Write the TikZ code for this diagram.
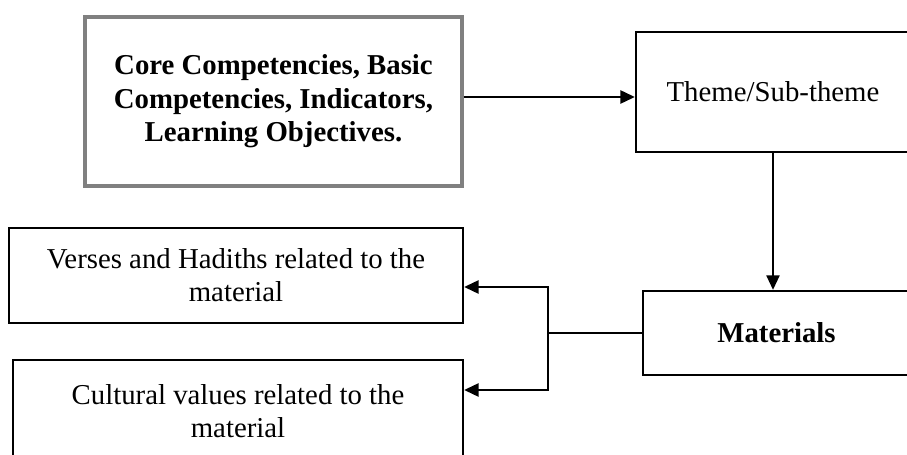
\documentclass[tikz,border=0pt]{standalone}
\usepackage{fontspec}
\setmainfont{Liberation Serif}
\usepackage{tikz}
\usetikzlibrary{arrows.meta,calc,positioning}
\tikzset{
    box/.style={
           rectangle,
           draw=black, line width=1pt,
           inner sep=0pt,
           align=center,
           font=\fontsize{12}{13.8}\selectfont,
           },
    graybox/.style={
           box,
           draw=gray, line width=1.3pt,
           font=\fontsize{12}{13.9}\selectfont\bfseries,
           },
    pil/.style={
           -{Triangle[length=6pt,width=5.5pt]},
           line width=0.8pt,
           },
}
\begin{document}
\begin{tikzpicture}[x=0.4167pt,y=-0.4167pt]
\useasboundingbox (0,0) rectangle (907,455);
\clip (0,0) rectangle (907,455);
\node[graybox, minimum width=377*0.4167pt, minimum height=169*0.4167pt] (core) at (273.5,101.5)
   {Core Competencies, Basic\\Competencies, Indicators,\\Learning Objectives.};
\node[box, minimum width=274*0.4167pt, minimum height=120*0.4167pt] (theme) at (773,92) {Theme/Sub-theme};
\node[box, font=\fontsize{12}{13.8}\selectfont\bfseries, minimum width=267*0.4167pt, minimum height=84*0.4167pt] (mat) at (776.5,333) {Materials};
\node[box, minimum width=454*0.4167pt, minimum height=95*0.4167pt] (verses) at (236,275.5)
   {Verses and Hadiths related to the\\material};
\node[box, minimum width=450*0.4167pt, minimum height=102*0.4167pt] (culture) at (238,411)
   {Cultural values related to the\\material};
\coordinate (split) at (548,333);
% arrows
\draw[pil] ($(core.east)+(0,-4.5)$) -- ($(core.east -| theme.west)+(0,-4.5)$);
\draw[pil, line width=0.6pt] (theme.south) -- (theme.south |- mat.north);
\draw[line width=0.8pt] (mat.west) -- (split);
\draw[pil] (split) |- ($(verses.east)+(0,11.5)$);
\draw[pil] (split) |- ($(culture.east)+(0,-21)$);
\end{tikzpicture}
\end{document}
